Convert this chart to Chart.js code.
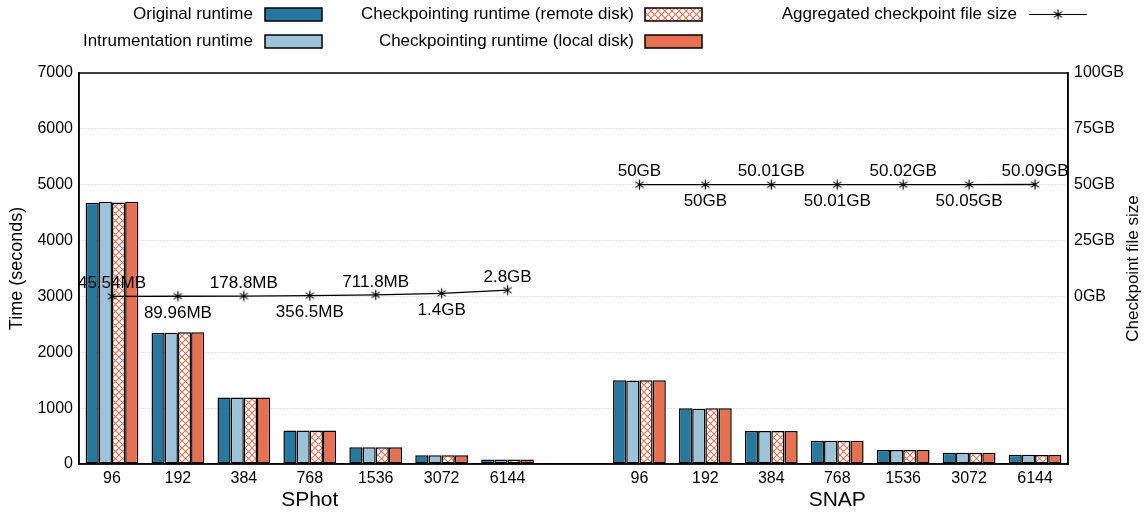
<!DOCTYPE html>
<html>
<head>
<meta charset="utf-8">
<script src="https://cdn.jsdelivr.net/npm/chart.js@4"></script>
<style>
  body { margin: 0; background: #fff; font-family: 'Liberation Sans', Arial, sans-serif; }
  #wrap { position: relative; width: 1146px; height: 512px; }
  #chart { position: absolute; left: 0; top: 0; }
  .lg-text { position: absolute; font-size: 17px; color: #000; white-space: nowrap; text-align: right; line-height: 20px; }
  .lg-box { position: absolute; }
</style>
</head>
<body>
<div id="wrap">
  <canvas id="chart" width="1146" height="512"></canvas>
  <div id="legend"></div>
</div>
<script>
// values
const categories = ['96', '192', '384', '768', '1536', '3072', '6144', '', '96', '192', '384', '768', '1536', '3072', '6144'];
const groupNames = ['SPhot', 'SNAP'];
const originalRuntime = [4675, 2350, 1190, 598, 300, 155, 80, null, 1500, 1000, 590, 415, 250, 200, 165];
const instrumentationRuntime = [4695, 2350, 1190, 598, 300, 155, 80, null, 1495, 990, 590, 415, 250, 200, 165];
const remoteDiskRuntime = [4680, 2360, 1190, 598, 300, 155, 80, null, 1500, 1000, 590, 415, 250, 200, 163];
const localDiskRuntime = [4695, 2360, 1190, 600, 300, 158, 80, null, 1500, 1000, 590, 415, 250, 200, 163];
const checkpointSizeGB = [0.04554, 0.08996, 0.1788, 0.3565, 0.7118, 1.4, 2.8, null, 50, 50, 50.01, 50.01, 50.02, 50.05, 50.09];
const checkpointLabels = ['45.54MB', '89.96MB', '178.8MB', '356.5MB', '711.8MB', '1.4GB', '2.8GB', '', '50GB', '50GB', '50.01GB', '50.01GB', '50.02GB', '50.05GB', '50.09GB'];

const FONT = "'Liberation Sans', Arial, sans-serif";
const BLUE = '#26789f';
const LIGHT = '#9cc3d7';
const RED = '#e87052';

function makeHatch() {
  const c = document.createElement('canvas');
  c.width = 7; c.height = 7;
  const g = c.getContext('2d');
  g.fillStyle = '#fff';
  g.fillRect(0, 0, 7, 7);
  g.strokeStyle = RED;
  g.lineWidth = 1.1;
  g.beginPath();
  g.moveTo(0, 0); g.lineTo(7, 7);
  g.moveTo(7, 0); g.lineTo(0, 7);
  g.stroke();
  return g.createPattern(c, 'repeat');
}

function makeStar() {
  const c = document.createElement('canvas');
  c.width = 13; c.height = 13;
  const g = c.getContext('2d');
  g.strokeStyle = '#000';
  g.lineWidth = 1.2;
  g.beginPath();
  [90, 35, -35].forEach(a => {
    const r = 5, rad = a * Math.PI / 180;
    g.moveTo(6.5 - r * Math.cos(rad), 6.5 - r * Math.sin(rad));
    g.lineTo(6.5 + r * Math.cos(rad), 6.5 + r * Math.sin(rad));
  });
  g.stroke();
  return c;
}

const hatch = makeHatch();
const star = makeStar();

// legend, drawn as html so text sits left of the swatch
function buildLegend() {
  const lg = document.getElementById('legend');
  const items = [
    { text: 'Original runtime', right: 253, x: 264, y: 4, fill: BLUE },
    { text: 'Intrumentation runtime', right: 253, x: 264, y: 31, fill: LIGHT },
    { text: 'Checkpointing runtime (remote disk)', right: 634, x: 644, y: 4, fill: 'hatch' },
    { text: 'Checkpointing runtime (local disk)', right: 634, x: 644, y: 31, fill: RED },
    { text: 'Aggregated checkpoint file size', right: 1017, x: 1029, y: 4, fill: 'line' }
  ];
  items.forEach(it => {
    const t = document.createElement('div');
    t.className = 'lg-text';
    t.textContent = it.text;
    t.style.right = (1146 - it.right) + 'px';
    t.style.top = it.y + 'px';
    lg.appendChild(t);
    const c = document.createElement('canvas');
    c.className = 'lg-box';
    c.width = 60; c.height = 20;
    c.style.left = it.x + 'px';
    c.style.top = it.y + 'px';
    const g = c.getContext('2d');
    if (it.fill === 'line') {
      g.strokeStyle = '#000';
      g.lineWidth = 1;
      g.beginPath(); g.moveTo(0, 10.5); g.lineTo(58, 10.5); g.stroke();
      g.drawImage(star, 29 - 6.5, 10.5 - 6.5);
    } else {
      g.fillStyle = it.fill === 'hatch' ? makeHatch() : it.fill;
      g.fillRect(1, 4, 57, 13);
      g.strokeStyle = '#000';
      g.lineWidth = 1.5;
      g.strokeRect(1, 4, 57, 13);
    }
    lg.appendChild(c);
  });
}

const extras = {
  id: 'extras',
  afterDraw(chart) {
    const ctx = chart.ctx;
    const area = chart.chartArea;
    const x = chart.scales.x;
    ctx.save();
    // frame
    ctx.strokeStyle = '#000';
    ctx.lineWidth = 1.5;
    ctx.strokeRect(area.left, area.top, area.right - area.left, area.bottom - area.top);

    // labels on the checkpoint size points, alternating above and below
    const meta = chart.getDatasetMeta(4);
    ctx.fillStyle = '#000';
    ctx.font = '17px ' + FONT;
    ctx.textAlign = 'center';
    ctx.textBaseline = 'middle';
    let k = 0;
    meta.data.forEach((pt, i) => {
      if (checkpointSizeGB[i] === null) { k = 0; return; }
      const dy = (k % 2 === 0) ? -13 : 17;
      ctx.fillText(checkpointLabels[i], pt.x, pt.y + dy);
      k++;
    });

    // group names under the x axis
    ctx.font = '21px ' + FONT;
    let start = 0;
    let g = 0;
    for (let i = 0; i <= categories.length; i++) {
      if (i === categories.length || categories[i] === '') {
        const mid = (start + i - 1) / 2;
        ctx.fillText(groupNames[g], x.getPixelForValue(mid), 500);
        g++;
        start = i + 1;
      }
    }

    // axis titles
    ctx.font = '18px ' + FONT;
    const cy = (area.top + area.bottom) / 2;
    ctx.translate(17, cy);
    ctx.rotate(-Math.PI / 2);
    ctx.fillText('Time (seconds)', 0, 0);
    ctx.setTransform(1, 0, 0, 1, 0, 0);
    ctx.font = '17px ' + FONT;
    ctx.translate(1133, cy);
    ctx.rotate(-Math.PI / 2);
    ctx.fillText('Checkpoint file size', 0, 0);
    ctx.restore();
  }
};

function barSet(label, data, fill) {
  return {
    type: 'bar',
    label: label,
    data: data,
    backgroundColor: fill,
    borderColor: '#000',
    borderWidth: 1.5,
    borderSkipped: false,
    categoryPercentage: 0.8,
    barPercentage: 1.0,
    yAxisID: 'y',
    order: 2
  };
}

window.onload = function () {
  buildLegend();
  const ctx = document.getElementById('chart').getContext('2d');
  new Chart(ctx, {
    data: {
      labels: categories,
      datasets: [
        barSet('Original runtime', originalRuntime, BLUE),
        barSet('Intrumentation runtime', instrumentationRuntime, LIGHT),
        barSet('Checkpointing runtime (remote disk)', remoteDiskRuntime, hatch),
        barSet('Checkpointing runtime (local disk)', localDiskRuntime, RED),
        {
          type: 'line',
          label: 'Aggregated checkpoint file size',
          data: checkpointSizeGB,
          yAxisID: 'y2',
          borderColor: '#000',
          borderWidth: 1.3,
          pointStyle: star,
          pointRadius: 6,
          spanGaps: false,
          order: 1
        }
      ]
    },
    options: {
      responsive: false,
      animation: false,
      layout: { padding: { top: 73, left: 0, right: 0, bottom: 0 } },
      plugins: { legend: { display: false }, tooltip: { enabled: false } },
      scales: {
        x: {
          type: 'category',
          grid: { display: false, drawTicks: false, tickLength: 0 },
          border: { display: true, color: '#000', width: 1.5 },
          ticks: { color: '#000', font: { family: FONT, size: 16 }, autoSkip: false, maxRotation: 0, padding: 5 },
          afterFit: s => { s.height = 48; }
        },
        y: {
          position: 'left',
          min: 0, max: 7000,
          ticks: { stepSize: 1000, color: '#000', font: { family: FONT, size: 16 }, padding: 6, callback: v => String(v) },
          grid: { color: '#c8c8c8', lineWidth: 1, drawTicks: false },
          border: { display: true, color: '#000', width: 1.5, dash: [1, 2] },
          afterFit: s => { s.width = 79; }
        },
        y2: {
          position: 'right',
          min: -75, max: 100,
          ticks: {
            stepSize: 25, color: '#000', font: { family: FONT, size: 16 }, padding: 6,
            callback: v => v >= 0 ? v + 'GB' : ''
          },
          grid: { drawOnChartArea: false, drawTicks: false },
          border: { display: true, color: '#000', width: 1.5 },
          afterFit: s => { s.width = 78; }
        }
      }
    },
    plugins: [extras]
  });
};
</script>
</body>
</html>
